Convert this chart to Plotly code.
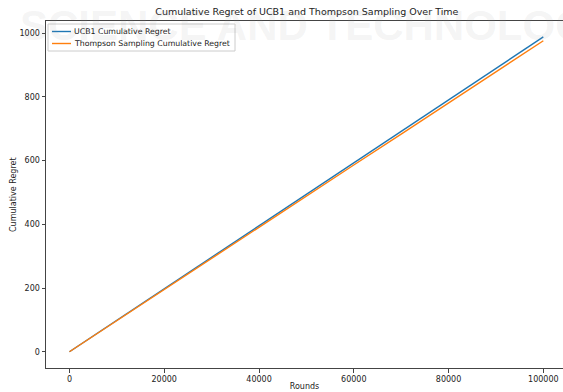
import plotly.graph_objects as go

rounds = [0, 10000, 20000, 30000, 40000, 50000, 60000, 70000, 80000, 90000, 100000]
ucb1_regret = [0, 99, 198, 297, 396, 494, 593, 692, 791, 889, 988]
ts_regret = [0, 98, 196, 293, 391, 488, 586, 683, 781, 878, 976]

series_names = ["UCB1 Cumulative Regret", "Thompson Sampling Cumulative Regret"]
series_colors = ["#1f77b4", "#ff7f0e"]

x_ticks = [0, 20000, 40000, 60000, 80000, 100000]
y_ticks = [0, 200, 400, 600, 800, 1000]

font_fam = "DejaVu Sans"

W, H = 563, 392
ML, MR, MT, MB = 46, 0, 21, 24
PW, PH = W - ML - MR, H - MT - MB


def px(xp):
    return (xp - ML) / PW


def py(yp):
    return (H - MB - yp) / PH


fig = go.Figure()
for vals, name, col in zip([ucb1_regret, ts_regret], series_names, series_colors):
    fig.add_trace(go.Scatter(x=rounds, y=vals, mode="lines", name=name,
                             line=dict(color=col, width=1.4), showlegend=False))

fig.update_layout(
    width=W, height=H,
    margin=dict(l=ML, r=MR, t=MT, b=MB, autoexpand=False),
    paper_bgcolor="white", plot_bgcolor="white",
    font=dict(family=font_fam, size=8, color="#222"),
    title=dict(text="Cumulative Regret of UCB1 and Thompson Sampling Over Time",
               x=0.545, xref="container", xanchor="center", y=0.97, yref="container",
               yanchor="middle", automargin=False,
               font=dict(size=9.5, color="#222")),
    showlegend=False,
    xaxis=dict(range=[-4950, 104150], tickvals=x_ticks,
               ticktext=[str(v) for v in x_ticks], automargin=False,
               showgrid=False, zeroline=False,
               showline=True, linecolor="#444", linewidth=1, mirror=True,
               ticks="outside", ticklen=3.5, tickcolor="#444",
               title=dict(text="Rounds", standoff=0, font=dict(size=8))),
    yaxis=dict(range=[-51, 1038], tickvals=y_ticks,
               ticktext=[str(v) for v in y_ticks], automargin=False,
               showgrid=False, zeroline=False,
               showline=True, linecolor="#444", linewidth=1, mirror=False,
               ticks="outside", ticklen=3.5, tickcolor="#444"),
)

# y axis title
fig.add_annotation(text="Cumulative Regret", xref="paper", yref="paper",
                   x=px(13), y=py(195), textangle=-90, showarrow=False,
                   xanchor="center", yanchor="middle", font=dict(size=8, color="#222"))

# faint watermark from the source page
fig.add_annotation(text="<b>SCIENCE AND TECHNOLOGY</b>", xref="paper", yref="paper",
                   x=-0.055, y=1.06, xanchor="left", yanchor="top", showarrow=False,
                   font=dict(family="Liberation Sans", size=42, color="rgba(150,150,150,0.11)"))

# legend (matplotlib-style compact box)
fig.add_shape(type="rect", xref="paper", yref="paper",
              x0=px(48), x1=px(235), y0=py(51), y1=py(24),
              fillcolor="rgba(255,255,255,0.8)", line=dict(color="#cccccc", width=1))
for i, (name, col) in enumerate(zip(series_names, series_colors)):
    yy = 31.5 + 12 * i
    fig.add_shape(type="line", xref="paper", yref="paper",
                  x0=px(52), x1=px(71), y0=py(yy), y1=py(yy),
                  line=dict(color=col, width=1.4))
    fig.add_annotation(text=name, xref="paper", yref="paper",
                       x=px(72), y=py(yy), xanchor="left", yanchor="middle",
                       showarrow=False, font=dict(size=7.8, color="#222"))

fig.write_html("out.html", config={"displayModeBar": False},
               post_script="document.body.style.margin='0';document.body.style.overflow='hidden';")
